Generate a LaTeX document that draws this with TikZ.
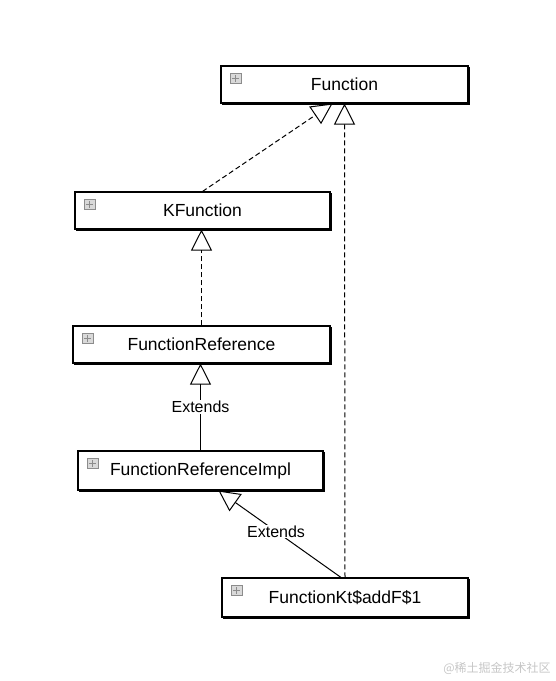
\documentclass[tikz,border=0pt]{standalone}
\usepackage{fontspec}
\setmainfont{Liberation Sans}
\newfontfamily\cjkfont{Noto Sans CJK SC}
\usetikzlibrary{arrows.meta,positioning}
\tikzset{
  >=latex,
}
\tikzstyle{every node}=[font=\fontsize{17.5}{20}\selectfont]
\tikzstyle{classbox}=[draw,line width=1.1pt,fill=white,inner sep=0pt,minimum height=37pt,
  preaction={draw,line width=0.6pt,transform canvas={xshift=0.8pt,yshift=-1pt}}]
\tikzstyle{plusicon}=[draw=gray!90,fill=gray!30,minimum width=11pt,minimum height=10pt,inner sep=0pt,
  path picture={\draw[line width=1.1pt] ([xshift=-3.5pt]path picture bounding box.center)--([xshift=3.5pt]path picture bounding box.center)
    ([yshift=-3.5pt]path picture bounding box.center)--([yshift=3.5pt]path picture bounding box.center);}]
\tikzstyle{inherit}=[line width=1pt,-{Triangle[open,length=21pt,width=21pt]}]
\tikzstyle{realize}=[inherit,dash pattern=on 5pt off 3pt]
\tikzstyle{edgelabel}=[fill=white,inner sep=1pt,font=\fontsize{16}{18}\selectfont]

\begin{document}
\begin{tikzpicture}[x=1pt,y=-1pt]
        \useasboundingbox (0,0) rectangle (555,681);
        \node[classbox,minimum width=247pt] (fn) at (344.5,84.5) {Function};
        \node[classbox,minimum width=255pt] (kfn) at (202.5,210.5) {KFunction};
        \node[classbox,minimum width=257pt] (fref) at (201.5,344.5) {FunctionReference};
        \node[classbox,minimum width=245pt,minimum height=39pt] (frimpl) at (200.5,470.5) {FunctionReferenceImpl};
        \node[classbox,minimum width=246pt,minimum height=39pt] (addf) at (345,597.5) {FunctionKt\$addF\$1};
        \foreach \b in {fn,kfn,fref,frimpl,addf}
          \node[plusicon] (\b-plus) at ([xshift=15pt,yshift=-13pt]\b.north west) {};
        \draw[realize] (kfn.north) -- ([xshift=-12pt]fn.south);
        \draw[realize] (addf.north) -- (fn.south);
        \draw[realize] (fref.north) -- (fref.north |- kfn.south);
        \draw[inherit] (frimpl.north) -- node[edgelabel]{Extends} (frimpl.north |- fref.south);
        \draw[inherit] ([xshift=-4pt]addf.north) -- node[edgelabel,pos=0.53]{Extends} ([xshift=18pt]frimpl.south);
        \node[font=\cjkfont\fontsize{12}{14}\selectfont,text=gray!45] (mark) at (497,668) {@稀土掘金技术社区};
      \end{tikzpicture}
\end{document}
